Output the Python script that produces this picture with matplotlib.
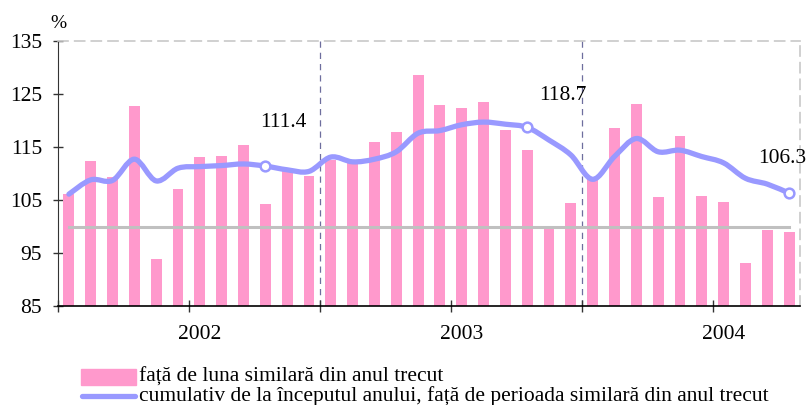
import matplotlib
matplotlib.use("Agg")
from matplotlib import pyplot as plt
from matplotlib.path import Path
from matplotlib.patches import PathPatch, Rectangle
from matplotlib.lines import Line2D
import numpy as np

# data: 2002-01 .. 2004-10
years = ["2002", "2003", "2004"]
monthly = [106.2, 112.4, 109.3, 122.7, 93.8, 107.1, 113.1, 113.3, 115.4, 104.2, 110.6, 109.6,
           112.6, 111.9, 116.0, 117.8, 128.6, 122.9, 122.4, 123.4, 118.3, 114.4, 100.0, 104.4,
           109.0, 118.6, 123.2, 105.5, 117.0, 105.8, 104.6, 93.1, 99.4, 99.0]
cumulative = [106.1, 108.8, 108.7, 112.7, 108.6, 111.0, 111.3, 111.5, 111.8, 111.4, 110.7, 110.4,
              113.1, 112.2, 112.7, 114.1, 117.6, 118.1, 119.2, 119.7, 119.3, 118.7, 116.3, 113.5,
              108.9, 113.2, 116.6, 114.1, 114.4, 113.2, 112.0, 109.1, 108.0, 106.3]
labeled = [9, 21, 33]
label_text = ["111.4", "118.7", "106.3"]
legend_labels = ["față de luna similară din anul trecut",
                 "cumulativ de la începutul anului, față de perioada similară din anul trecut"]

pink = "#FF99CC"
blue = "#9999FF"
plt.rcParams["font.family"] = ["Liberation Serif", "DejaVu Serif"]

W, H = 806, 405
fig = plt.figure(figsize=(W / 100, H / 100), dpi=100)
ax = fig.add_axes([58 / W, (H - 306) / H, 742 / W, 265 / H])

x = np.arange(len(monthly))
ax.bar(x, np.array(monthly) - 85, bottom=85, width=0.5, color=pink, zorder=2)
ax.plot([x[0], x[-1]], [100, 100], color="#C0C0C0", lw=2.2, zorder=3)

# smoothed line (bezier through the points)
pts = np.column_stack([x, cumulative]).astype(float)
verts = [tuple(pts[0])]
codes = [Path.MOVETO]
n = len(pts)
for i in range(n - 1):
    p0 = pts[max(i - 1, 0)]
    p1 = pts[i]
    p2 = pts[i + 1]
    p3 = pts[min(i + 2, n - 1)]
    c1 = p1 + (p2 - p0) / 6
    c2 = p2 - (p3 - p1) / 6
    verts += [tuple(c1), tuple(c2), tuple(p2)]
    codes += [Path.CURVE4] * 3
ax.add_patch(PathPatch(Path(verts, codes), fill=False, edgecolor=blue, lw=3.8,
                       capstyle="round", joinstyle="round", zorder=4))
ax.plot(x[labeled], np.array(cumulative)[labeled], "o", ms=7, mfc="white", mec=blue,
        mew=1.8, zorder=5)

offsets = [(18, 44), (36, 32), (-7, 35)]
for i, t, off in zip(labeled, label_text, offsets):
    ax.annotate(t, (x[i], cumulative[i]), xytext=off, textcoords="offset pixels",
                ha="center", va="center", fontsize=15.5)

# year separators
for sx in [11.5, 23.5]:
    ax.axvline(sx, color="#6E6E9E", lw=0.9, ls=(0, (5, 4)), zorder=1)

ax.set_xlim(-0.5, len(monthly) - 0.5)
ax.set_ylim(85, 135)
ax.set_yticks(np.arange(85, 136, 10))
ax.set_xticks(np.arange(-0.5, len(monthly), 6))
ax.set_xticklabels([])
ax.set_xticks([6, 18, 30], minor=True)
ax.set_xticklabels(years, minor=True)
ax.tick_params(axis="x", which="major", direction="inout", length=8, width=1, color="#333333")
ax.tick_params(axis="x", which="minor", length=0, pad=14, labelsize=15.5)
ax.tick_params(axis="y", direction="inout", length=7, width=1, color="#333333", pad=8,
               labelsize=15.5)

for s in ["top", "right"]:
    ax.spines[s].set_color("#C8C8C8")
    ax.spines[s].set_linestyle((0, (6, 4)))
    ax.spines[s].set_linewidth(1.2)
ax.spines["left"].set_color("#333333")
ax.spines["bottom"].set_color("black")
ax.spines["bottom"].set_linewidth(1.2)

ax.annotate("%", (0, 1), xycoords="axes fraction", xytext=(0, 17), textcoords="offset pixels",
            ha="center", va="center", fontsize=14)

# legend
fig.patches.append(Rectangle((81 / W, (H - 385) / H), 55 / W, 16 / H, color=pink,
                             transform=fig.transFigure, figure=fig))
fig.lines.append(Line2D([82 / W, 135 / W], [(H - 396) / H] * 2, color=blue, lw=3.8,
                        solid_capstyle="round", transform=fig.transFigure, figure=fig))
fig.text(139 / W, (H - 377) / H, legend_labels[0], fontsize=15.5, va="center")
fig.text(139 / W, (H - 396) / H, legend_labels[1], fontsize=15.5, va="center")

fig.savefig("out.png", dpi=100)
